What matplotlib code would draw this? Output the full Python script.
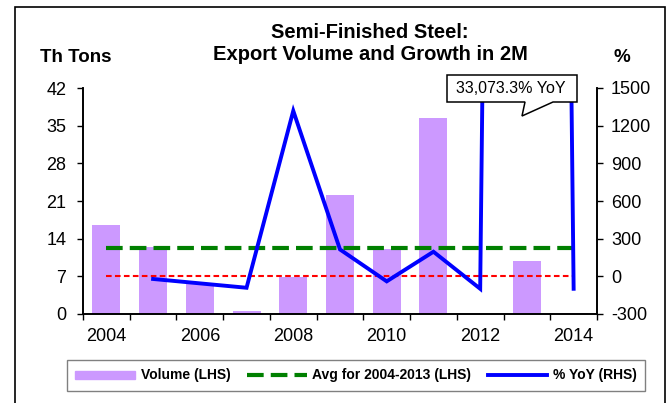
import numpy as np
import matplotlib
matplotlib.use("Agg")
import matplotlib.pyplot as plt
from matplotlib.lines import Line2D
from matplotlib.patches import Patch, Rectangle, Polygon

plt.rcParams['font.family'] = ['Liberation Sans', 'DejaVu Sans']
plt.rcParams['axes.unicode_minus'] = False

# data
years = [2004, 2005, 2006, 2007, 2008, 2009, 2010, 2011, 2012, 2013, 2014]
volume = [16.5, 12.5, 5.6, 0.5, 6.8, 22.2, 12.0, 36.5, 0.03, 9.8, 0.1]
yoy = [np.nan, -21, -56, -91, 1318, 214, -40, 196, -99, 33073.3, -99]
avg_2004_2013 = 12.26
zero_line = 0

lhs_ticks = [0, 7, 14, 21, 28, 35, 42]
rhs_ticks = [-300, 0, 300, 600, 900, 1200, 1500]

x = np.arange(len(years))

W, H = 672, 403
def fx(px):
    return px / W
def fy(py):
    return 1 - py / H

fig = plt.figure(figsize=(6.72, 4.03), dpi=100)
ax = fig.add_axes([fx(83), fy(314), (597 - 83) / W, (314 - 88) / H])
ax2 = ax.twinx()

ax.bar(x, volume, width=0.6, color='#CC99FF', zorder=2)
ax.plot(x, [avg_2004_2013] * len(x), color='#008000', lw=3, dashes=(4, 1.7), zorder=3)

ax2.plot(x, [zero_line] * len(x), color='#FF0000', lw=1.5, dashes=(2.7, 1.6))
ax2.plot(x, yoy, color='#0000FF', lw=2.8, solid_joinstyle='miter')

ax.set_xlim(-0.5, len(x) - 0.5)
ax.set_ylim(0, 42)
ax2.set_ylim(-300, 1500)
ax.set_yticks(lhs_ticks)
ax2.set_yticks(rhs_ticks)

# tick marks on the category boundaries, labels every other year
ax.set_xticks(np.arange(-0.5, len(x), 1.0))
ax.set_xticklabels([])
ax.set_xticks(x[::2], minor=True)
ax.set_xticklabels([str(y) for y in years[::2]], minor=True)
ax.tick_params(axis='x', which='major', direction='out', length=4, width=1)
ax.tick_params(axis='x', which='minor', length=0, pad=10, labelsize=13)
ax.tick_params(axis='y', direction='out', length=4, width=1, pad=8, labelsize=13)
ax2.tick_params(axis='y', direction='out', length=4, width=1, pad=6, labelsize=13)

for a in (ax, ax2):
    a.spines['top'].set_visible(False)
    for s in ('left', 'right', 'bottom'):
        a.spines[s].set_linewidth(1.2)

# callout for the off-scale 2013 value
callout = [(447, 75), (577, 75), (577, 102), (553, 102), (522, 116), (525, 102), (447, 102)]
fig.patches.append(Polygon([(fx(a), fy(b)) for a, b in callout], closed=True,
                           transform=fig.transFigure, fc='white', ec='black', lw=1.1, zorder=2))
fig.text(fx(511), fy(88.5), '33,073.3% YoY', ha='center', va='center', fontsize=11.5, zorder=3)

fig.text(fx(370), fy(33), 'Semi-Finished Steel:', ha='center', va='center',
         fontsize=14.5, fontweight='bold')
fig.text(fx(370), fy(54), 'Export Volume and Growth in 2M', ha='center', va='center',
         fontsize=14.5, fontweight='bold')
fig.text(fx(76), fy(58), 'Th Tons', ha='center', va='center',
         fontsize=13.5, fontweight='bold')
fig.text(fx(622), fy(58), '%', ha='center', va='center',
         fontsize=13.5, fontweight='bold')

handles = [Patch(color='#CC99FF'),
           Line2D([], [], color='#008000', lw=3, dashes=(4, 1.7)),
           Line2D([], [], color='#0000FF', lw=2.8)]
labels = ['Volume (LHS)', 'Avg for 2004-2013 (LHS)', '% YoY (RHS)']
leg = fig.legend(handles, labels, loc='center', ncol=3, mode='expand',
                 bbox_to_anchor=(fx(60), fy(394), 592 / W, 37 / H),
                 prop=dict(weight='bold', size=10), handlelength=4.3, handleheight=0.5,
                 handletextpad=0.4, columnspacing=1.0, fancybox=False, framealpha=1,
                 edgecolor='#808080', borderpad=0.6)
leg.get_frame().set_linewidth(1)

# outer frame of the chart
fig.patches.append(Rectangle((fx(15), -0.02), 650 / W, (H - 7) / H + 0.02,
                             transform=fig.transFigure, fill=False, ec='black', lw=1.2))

fig.savefig('out.png', dpi=100)
